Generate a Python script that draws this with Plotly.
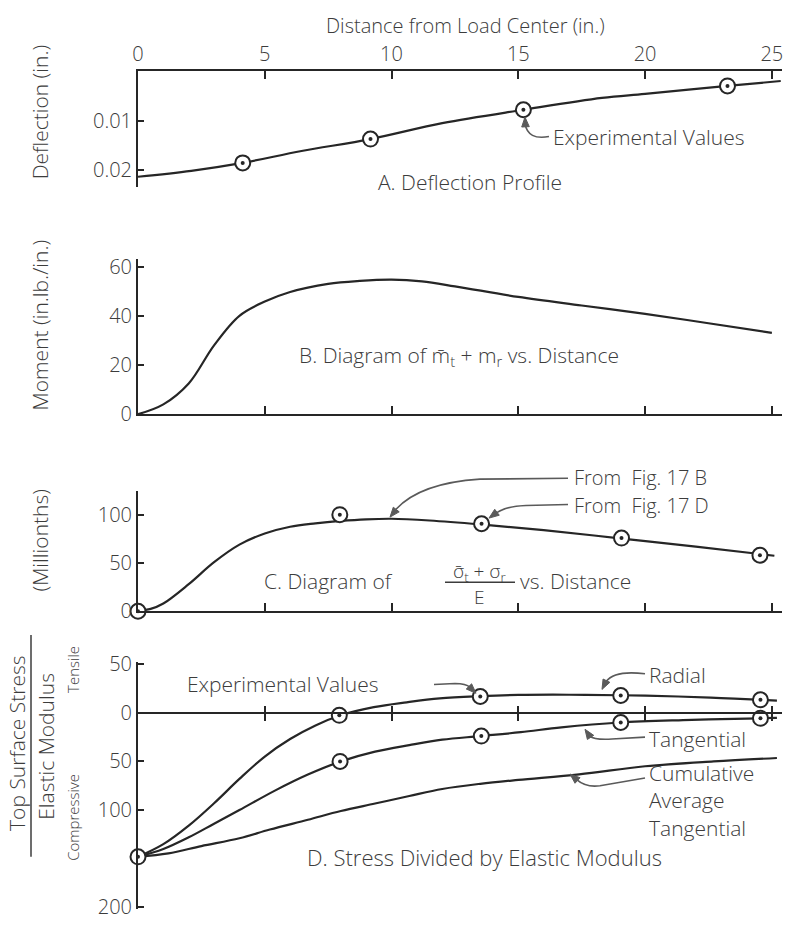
import math
import plotly.graph_objects as go

# ---------------- DATA ----------------
# Panel A: deflection profile (in.)
defl_x = [0, 2.1, 4.13, 6.45, 9.17, 12.0, 15.2, 18.3, 20.0, 23.25, 25.35]
defl_y = [0.0213, 0.0201, 0.0185, 0.0161, 0.0137, 0.0105, 0.0078, 0.0054, 0.0046, 0.0030, 0.0020]
defl_exp_x = [4.13, 9.17, 15.2, 23.25]
defl_exp_y = [0.0185, 0.0137, 0.0078, 0.0030]

# Panel B: moment (in.lb./in.)
mom_x = [0, 1, 2, 3, 4, 5, 6, 7.5, 8.75, 10, 11.2, 12.5, 15, 17.5, 20, 22.5, 25]
mom_y = [0, 4, 12.5, 28, 40, 45.8, 49.7, 53, 54.2, 54.7, 54, 52, 47.7, 44.2, 40.8, 37, 33.1]

# Panel C: (sigma_t + sigma_r)/E, millionths
strain_x = [0, 0.5, 1, 2, 3, 4, 5, 6, 7, 8, 9, 10, 11.5, 13.5, 16, 19, 22, 25.1]
strain_y = [1, 2.5, 8, 28, 50.8, 69, 80.5, 87.5, 91, 93.5, 95.2, 95.8, 94, 90, 84, 75.5, 67, 57.5]
strain_exp_x = [0, 7.96, 13.55, 19.07, 24.53]
strain_exp_y = [0, 100, 90.6, 75.8, 58]

# Panel D: stress / elastic modulus (millionths, compressive positive)
radial_x = [0, 1, 2, 3, 4, 5, 6, 7, 8, 9.3, 10.6, 11.9, 13.5, 15.0, 17.0, 19.0, 21.3, 23.0, 24.6, 25.2]
radial_y = [148, 135, 116, 93, 68, 45, 27, 13, 2.6, -5.7, -10.7, -14.7, -17, -18.3, -18.5, -18, -16.7, -15, -13.3, -12.5]
radial_exp_x = [7.94, 13.5, 19.04, 24.55]
radial_exp_y = [2.6, -16.7, -17.7, -13.3]

tang_x = [0, 1, 2, 3, 4, 5.4, 6.7, 8, 9.35, 10.7, 12, 13.5, 15.1, 16.7, 19, 21.5, 23, 24.5, 25.2]
tang_y = [148, 140, 128, 114, 100, 80, 63.5, 50, 40, 33.3, 27.7, 24, 20, 15, 10, 7.5, 6.5, 5.7, 5.2]
tang_exp_x = [0, 7.97, 13.54, 19.04, 24.55]
tang_exp_y = [148, 50, 24, 10, 5.7]

cum_x = [0, 1.2, 2.5, 4, 5.2, 6.7, 8, 9.35, 10.7, 12, 13.5, 15, 17.4, 20, 22.7, 25.2]
cum_y = [148, 144.5, 137, 129, 120, 110, 101, 93.3, 85.5, 78.3, 73, 69, 63.3, 55, 50, 46.5]

dist_ticks = [0, 5, 10, 15, 20, 25]
dist_tick_text = ["0", "5", "10", "15", "20", "25"]

# ---------------- STYLE ----------------
FONT = "Open Sans"
WEIGHT = 300
TXT = "#3c3c3c"
LINE = "#262626"
GREY = "#5a5a5a"
W, H = 786, 935
ML, MR = 138, 4
PW = W - ML - MR


def px(xp):
    return (xp - ML) / PW


def py(yp):
    return 1 - yp / H


def fnt(size, color=TXT):
    return dict(family=FONT, size=size, color=color, weight=WEIGHT)


fig = go.Figure()


def curve(x, y, xa, ya):
    fig.add_trace(go.Scatter(x=x, y=y, mode="lines", xaxis=xa, yaxis=ya,
                             line=dict(color=LINE, width=2.2, shape="spline", smoothing=1.0),
                             hoverinfo="skip", showlegend=False))


def markers(x, y, xa, ya):
    fig.add_trace(go.Scatter(x=x, y=y, mode="markers", xaxis=xa, yaxis=ya,
                             marker=dict(symbol="circle", size=15, color="white",
                                         line=dict(color=LINE, width=2)),
                             hoverinfo="skip", showlegend=False, cliponaxis=False))
    fig.add_trace(go.Scatter(x=x, y=y, mode="markers", xaxis=xa, yaxis=ya,
                             marker=dict(symbol="circle", size=4, color=LINE),
                             hoverinfo="skip", showlegend=False, cliponaxis=False))


curve(defl_x, defl_y, "x", "y")
markers(defl_exp_x, defl_exp_y, "x", "y")
curve(mom_x, mom_y, "x2", "y2")
curve(strain_x, strain_y, "x3", "y3")
markers(strain_exp_x, strain_exp_y, "x3", "y3")
curve(radial_x, radial_y, "x4", "y4")
curve(tang_x, tang_y, "x4", "y4")
curve(cum_x, cum_y, "x4", "y4")
markers(radial_exp_x, radial_exp_y, "x4", "y4")
markers(tang_exp_x, tang_exp_y, "x4", "y4")
# invisible trace to activate overlay axis
fig.add_trace(go.Scatter(x=[0], y=[0], mode="markers", xaxis="x5", yaxis="y4",
                         marker=dict(size=1, opacity=0), hoverinfo="skip", showlegend=False))

XR = [0, 25.4]
tickfont = fnt(20)
base_x = dict(range=XR, showgrid=False, zeroline=False, showline=True, linewidth=2,
              linecolor=LINE, tickcolor=LINE, tickwidth=1.5, domain=[0, 1], fixedrange=True)
base_y = dict(showgrid=False, zeroline=False, showline=True, linewidth=2,
              linecolor=LINE, tickcolor=LINE, tickwidth=1.5, ticks="inside", ticklen=6,
              tickfont=tickfont, fixedrange=True)

fig.update_layout(
    width=W, height=H,
    margin=dict(l=ML, r=MR, t=0, b=0),
    paper_bgcolor="white", plot_bgcolor="white",
    font=dict(family=FONT, color=TXT),
    xaxis=dict(base_x, anchor="y", side="top", ticks="inside", ticklen=8,
               tickvals=dist_ticks, ticktext=dist_tick_text, tickfont=tickfont),
    yaxis=dict(base_y, anchor="x", domain=[py(180), py(60.7)], range=[0.0234, 0],
               tickvals=[0.01, 0.02], ticktext=["0.01", "0.02"]),
    xaxis2=dict(base_x, anchor="y2", ticks="inside", ticklen=8, tickvals=dist_ticks[1:],
                showticklabels=False),
    yaxis2=dict(base_y, anchor="x2", domain=[py(413.3), py(253.3)], range=[0, 63.3],
                tickvals=[0, 20, 40, 60]),
    xaxis3=dict(base_x, anchor="y3", ticks="inside", ticklen=8, tickvals=dist_ticks[1:],
                showticklabels=False),
    yaxis3=dict(base_y, anchor="x3", domain=[py(615.7), py(491.7)], range=[0, 125],
                tickvals=[0, 50, 100]),
    xaxis4=dict(base_x, anchor="free", position=py(720), ticks="outside", ticklen=7,
                tickvals=dist_ticks[1:], showticklabels=False),
    xaxis5=dict(base_x, anchor="free", position=py(720), overlaying="x4", ticks="inside",
                ticklen=7, tickvals=dist_ticks[1:], showticklabels=False, showline=False),
    yaxis4=dict(base_y, anchor="x4", domain=[py(922), py(668)], range=[202, -52],
                tickvals=[-50, 0, 50, 100, 200], ticktext=["50", "0", "50", "100", "200"]),
)

ann = []
shapes = []


def text(xp, ypx, s, size=20, angle=0, xanchor="center", align="center", color=TXT):
    ann.append(dict(x=px(xp), y=py(ypx), xref="paper", yref="paper", text=s, showarrow=False,
                    textangle=angle, xanchor=xanchor, yanchor="middle", align=align,
                    font=fnt(size, color)))


def P(xp, ypx):
    return f"{px(xp):.5f},{py(ypx):.5f}"


def leader(path):
    shapes.append(dict(type="path", xref="paper", yref="paper", path=path,
                       line=dict(color=GREY, width=1.6)))


def head(tx, ty, bx, by, length=10, half=3.8):
    # arrowhead triangle with tip at (tx, ty), pointing away from (bx, by)
    dx, dy = tx - bx, ty - by
    n = math.hypot(dx, dy)
    ux, uy = dx / n, dy / n
    cx, cy = tx - ux * length, ty - uy * length
    p1 = (cx - uy * half, cy + ux * half)
    p2 = (cx + uy * half, cy - ux * half)
    shapes.append(dict(type="path", xref="paper", yref="paper",
                       path=f"M {P(tx, ty)} L {P(*p1)} L {P(*p2)} Z",
                       fillcolor=GREY, line=dict(color=GREY, width=1)))


# Titles / axis labels
text(465, 14, "Distance from Load Center (in.)", size=20)
text(40, 103, "Deflection (in.)", size=21, angle=-90)
text(40, 322, "Moment (in.lb./in.)", size=21, angle=-90)
text(40, 543, "(Millionths)", size=21, angle=-90)
text(17, 752, "Top Surface Stress", size=21, angle=-90)
text(46, 755, "Elastic Modulus", size=21, angle=-90)
shapes.append(dict(type="line", xref="paper", yref="paper", x0=px(31), x1=px(31),
                   y0=py(640), y1=py(868), line=dict(color=TXT, width=1.5)))
text(73, 676, "Tensile", size=15, angle=-90)
text(73, 828, "Compressive", size=15, angle=-90)

# Panel labels
text(470, 175, "A. Deflection Profile", size=21)
text(459, 353, "B. Diagram of m\u0304<sub>t</sub> + m<sub>r</sub> vs. Distance", size=21)
text(262, 585, "C. Diagram of", size=21, xanchor="left")
text(479, 575, "\u03c3\u0304<sub>t</sub> + \u03c3<sub>r</sub>", size=19)
shapes.append(dict(type="line", xref="paper", yref="paper", x0=px(445), x1=px(515),
                   y0=py(586), y1=py(586), line=dict(color=TXT, width=1.5)))
text(479, 601, "E", size=19)
text(518, 585, "vs. Distance", size=21, xanchor="left")
text(484, 868, "D. Stress Divided by Elastic Modulus", size=22)

# Callouts panel A
text(551, 128, "Experimental Values", size=21, xanchor="left")
leader(f"M {P(549,128)} Q {P(528,132)} {P(525,115)}")
head(525, 108, 525.5, 118)

# Callouts panel C
text(572, 478, "From  Fig. 17 B", size=20, xanchor="left")
leader(f"M {P(568,479)} L {P(480,480)} Q {P(420,484)} {P(396,511)}")
head(390, 519, 398, 509)
text(572, 507, "From  Fig. 17 D", size=20, xanchor="left")
leader(f"M {P(568,506)} L {P(526,507)} Q {P(505,508)} {P(496,515)}")
head(489, 520, 497, 514)

# Callouts panel D
text(185, 690, "Experimental Values", size=21, xanchor="left")
leader(f"M {P(434,691)} L {P(455,690)} Q {P(466,690)} {P(470,694)}")
head(476, 700, 469, 693)
text(647, 681, "Radial", size=21, xanchor="left")
leader(f"M {P(645,680)} Q {P(615,676)} {P(606,688)}")
head(602, 696, 607, 686)
text(647, 747, "Tangential", size=21, xanchor="left")
leader(f"M {P(645,745)} L {P(612,747)} Q {P(594,748)} {P(590,744)}")
head(585, 737, 591, 746)
text(647, 810, "Cumulative<br>Average<br>Tangential", size=21, xanchor="left", align="left")
leader(f"M {P(645,787)} L {P(600,795)} Q {P(586,797)} {P(577,789)}")
head(570, 783, 578, 790)

fig.update_layout(annotations=ann, shapes=shapes)
fig.write_html("out.html")
